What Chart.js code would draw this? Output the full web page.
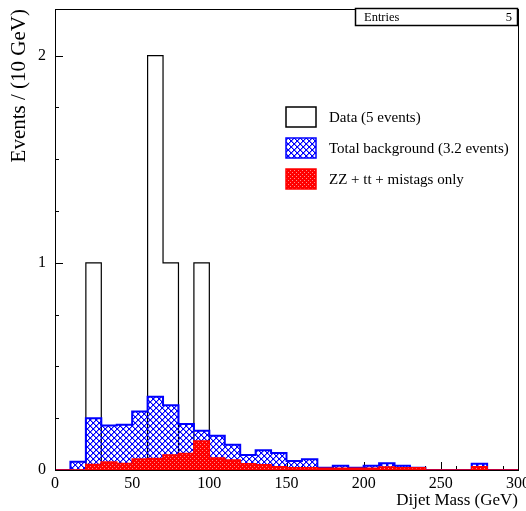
<!DOCTYPE html>
<html>
<head>
<meta charset="utf-8">
<title>Dijet Mass</title>
<script src="https://cdn.jsdelivr.net/npm/chart.js@4.4.0/dist/chart.umd.min.js"></script>
<style>
  html, body { margin: 0; padding: 0; background: #fff; }
</style>
</head>
<body>
<canvas id="chart" width="526" height="511"></canvas>
<script>
// Bin lower edges in GeV (10 GeV bins, last bin ends at 300)
const binLow = [0, 10, 20, 30, 40, 50, 60, 70, 80, 90,
  100, 110, 120, 130, 140, 150, 160, 170, 180, 190,
  200, 210, 220, 230, 240, 250, 260, 270, 280, 290];
const binEnd = 300;

// Events per bin
const dataCounts = [0, 0, 1, 0, 0, 0, 2, 1, 0, 1,
  0, 0, 0, 0, 0, 0, 0, 0, 0, 0,
  0, 0, 0, 0, 0, 0, 0, 0, 0, 0];
const totalBackground = [0, 0.04, 0.25, 0.215, 0.218, 0.282, 0.353, 0.313, 0.222, 0.19,
  0.165, 0.122, 0.072, 0.095, 0.082, 0.044, 0.052, 0.011, 0.021, 0.011,
  0.021, 0.032, 0.02, 0.011, 0, 0, 0, 0.03, 0, 0];
const zzTtMistags = [0, 0, 0.027, 0.039, 0.031, 0.053, 0.056, 0.072, 0.08, 0.14,
  0.058, 0.048, 0.03, 0.025, 0.016, 0.011, 0.011, 0.008, 0.008, 0.008,
  0.008, 0.014, 0.011, 0.011, 0, 0, 0, 0.016, 0, 0];

const xTickValues = [0, 50, 100, 150, 200, 250, 300];
const yTickValues = [0, 1, 2];
const legendLabels = ['Data (5 events)', 'Total background (3.2 events)', 'ZZ + tt + mistags only'];
const entries = 5;

const FONT = '"Liberation Serif", "Times New Roman", serif';

// histogram -> stepped points (horizontal at bin value, then vertical at next edge)
function toSteps(values) {
  const pts = binLow.map((x, i) => ({ x: x, y: values[i] }));
  pts.push({ x: binEnd, y: 0 });
  return pts;
}

// blue cross hatch
function makeHatch() {
  const c = document.createElement('canvas');
  c.width = 6; c.height = 6;
  const g = c.getContext('2d');
  for (let i = 0; i < 6; i++) {
    g.fillStyle = '#0000ff';
    g.fillRect(i, i, 1, 1);
    g.fillRect(5 - i, i, 1, 1);
    g.fillStyle = 'rgba(0,0,255,0.45)';
    g.fillRect((i + 1) % 6, i, 1, 1);
    g.fillRect((6 - i) % 6, i, 1, 1);
  }
  return g.createPattern(c, 'repeat');
}

// red with light dots
function makeDots() {
  const c = document.createElement('canvas');
  c.width = 4; c.height = 4;
  const g = c.getContext('2d');
  g.fillStyle = '#ff0000';
  g.fillRect(0, 0, 4, 4);
  g.fillStyle = '#ff8a8a';
  g.fillRect(0, 0, 1, 1);
  g.fillRect(2, 2, 1, 1);
  return g.createPattern(c, 'repeat');
}

const hatch = makeHatch();
const dots = makeDots();

// frame and inside ticks, drawn under the histograms
const framePlugin = {
  id: 'frame',
  beforeDatasetsDraw(chart) {
    const ctx = chart.ctx;
    const x = chart.scales.x, y = chart.scales.y;
    const a = chart.chartArea;
    ctx.save();
    ctx.strokeStyle = '#000';
    ctx.lineWidth = 1;
    ctx.beginPath();
    for (let v = 0; v <= 300; v += 10) {
      const px = Math.round(x.getPixelForValue(v)) + 0.5;
      const len = v % 50 === 0 ? 8 : 4;
      ctx.moveTo(px, a.bottom);
      ctx.lineTo(px, a.bottom - len);
    }
    for (let v = 0; v <= 2.2; v += 0.25) {
      const py = Math.round(y.getPixelForValue(v)) + 0.5;
      const len = v % 1 === 0 ? 8 : 4;
      ctx.moveTo(a.left, py);
      ctx.lineTo(a.left + len, py);
    }
    ctx.stroke();
    ctx.restore();
  },
  afterDraw(chart) {
    const ctx = chart.ctx;
    const a = chart.chartArea;
    ctx.save();
    ctx.strokeStyle = '#000';
    ctx.lineWidth = 1;
    ctx.strokeRect(Math.round(a.left) + 0.5, Math.round(a.top) + 0.5,
      Math.round(a.right - a.left), Math.round(a.bottom - a.top));

    // stats box
    ctx.fillStyle = '#fff';
    ctx.fillRect(355, 8, 162, 17);
    ctx.lineWidth = 1.5;
    ctx.strokeRect(355.5, 8.5, 162, 17);
    ctx.fillStyle = '#000';
    ctx.font = '12.5px ' + FONT;
    ctx.textBaseline = 'middle';
    ctx.textAlign = 'left';
    ctx.fillText('Entries', 364, 17.5);
    ctx.textAlign = 'right';
    ctx.fillText(String(entries), 512, 17.5);

    // legend
    const rows = [
      { y: 117, fill: '#fff', stroke: '#000' },
      { y: 148, fill: hatch, stroke: '#0000ff' },
      { y: 179, fill: dots, stroke: '#ff0000' }
    ];
    ctx.font = '15px ' + FONT;
    ctx.textAlign = 'left';
    rows.forEach((r, i) => {
      ctx.fillStyle = r.fill;
      ctx.fillRect(286, r.y - 10, 30, 20);
      ctx.strokeStyle = r.stroke;
      ctx.lineWidth = 1.5;
      ctx.strokeRect(286, r.y - 10, 30, 20);
      ctx.fillStyle = '#000';
      ctx.fillText(legendLabels[i], 329, r.y + 1);
    });
    ctx.restore();
  }
};

const ctx = document.getElementById('chart').getContext('2d');
new Chart(ctx, {
  type: 'line',
  data: {
    datasets: [
      {
        label: legendLabels[2],
        data: toSteps(zzTtMistags),
        stepped: 'before',
        borderColor: '#ff0000',
        borderWidth: 1.5,
        backgroundColor: dots,
        fill: 'origin',
        pointRadius: 0
      },
      {
        label: legendLabels[1],
        data: toSteps(totalBackground),
        stepped: 'before',
        borderColor: '#0000ff',
        borderWidth: 2,
        backgroundColor: hatch,
        fill: 'origin',
        pointRadius: 0
      },
      {
        label: legendLabels[0],
        data: toSteps(dataCounts),
        stepped: 'before',
        borderColor: '#000',
        borderWidth: 1.2,
        fill: false,
        pointRadius: 0
      }
    ]
  },
  options: {
    responsive: false,
    animation: false,
    layout: { padding: { top: 9, right: 8, left: 0, bottom: 0 } },
    plugins: {
      legend: { display: false },
      tooltip: { enabled: false }
    },
    scales: {
      x: {
        type: 'linear',
        min: 0,
        max: 300,
        grid: { display: false, drawTicks: false },
        border: { display: false },
        afterBuildTicks: s => { s.ticks = xTickValues.map(v => ({ value: v })); },
        afterFit: s => { s.height = 41; s.paddingLeft = 0; s.paddingRight = 0; },
        ticks: {
          color: '#000',
          font: { family: FONT, size: 16 },
          padding: 4,
          maxRotation: 0,
          autoSkip: false
        },
        title: {
          display: true,
          text: 'Dijet Mass (GeV)',
          align: 'end',
          color: '#000',
          font: { family: FONT, size: 17 },
          padding: { top: 0, bottom: 0 }
        }
      },
      y: {
        min: 0,
        max: 2.225,
        grid: { display: false, drawTicks: false },
        border: { display: false },
        afterBuildTicks: s => { s.ticks = yTickValues.map(v => ({ value: v })); },
        afterFit: s => { s.width = 55; s.paddingTop = 0; s.paddingBottom = 0; },
        ticks: {
          color: '#000',
          font: { family: FONT, size: 16 },
          padding: 9
        },
        title: {
          display: true,
          text: 'Events / (10 GeV)',
          align: 'end',
          color: '#000',
          font: { family: FONT, size: 21 },
          padding: { top: 7, bottom: 0 }
        }
      }
    }
  },
  plugins: [framePlugin]
});
</script>
</body>
</html>
